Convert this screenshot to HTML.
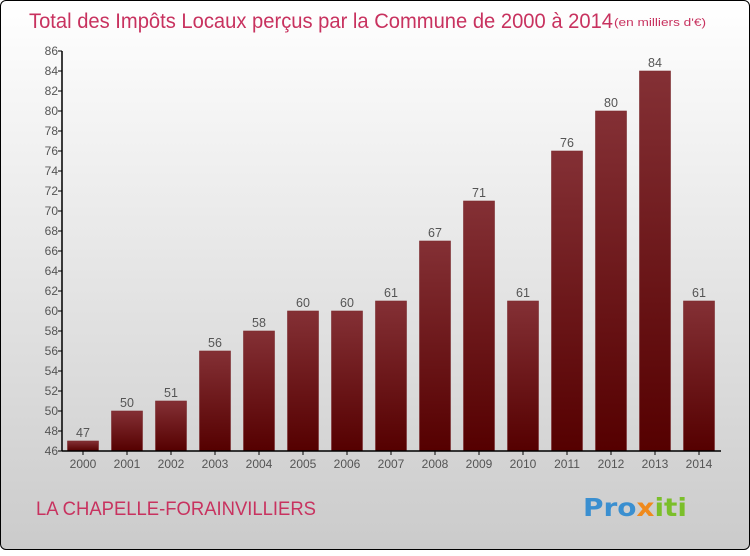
<!DOCTYPE html>
<html><head><meta charset="utf-8"><style>
body{margin:0;width:750px;height:550px;overflow:hidden}
#c{position:absolute;left:0;top:0;width:748px;height:548px;border:1px solid #000;border-radius:6px;background:linear-gradient(#ffffff,#cbcbcb);font-family:"Liberation Sans","DejaVu Sans",sans-serif}
</style></head><body>
<div id="c">
<svg width="750" height="550" id="svg">
<defs><linearGradient id="bg" x1="0" y1="0" x2="0" y2="1"><stop offset="0" stop-color="#843035"/><stop offset="1" stop-color="#550000"/></linearGradient></defs>
<text x="28" y="27" font-size="21" fill="#c8325f" textLength="584" lengthAdjust="spacingAndGlyphs" font-family="Liberation Sans,sans-serif">Total des Impôts Locaux perçus par la Commune de 2000 à 2014</text>
<text x="613" y="25" font-size="11" fill="#c8325f" textLength="92" lengthAdjust="spacingAndGlyphs" font-family="Liberation Sans,sans-serif">(en milliers d'€)</text>
<text x="35" y="514" font-size="19" fill="#c8325f" textLength="280" lengthAdjust="spacingAndGlyphs" font-family="Liberation Sans,sans-serif">LA CHAPELLE-FORAINVILLIERS</text>
<g font-size="25" font-weight="bold" font-family="DejaVu Sans,sans-serif">
<text x="582" y="515" textLength="104" lengthAdjust="spacingAndGlyphs"><tspan fill="#3a8fd0">Pro</tspan><tspan fill="#f08a1c">x</tspan><tspan fill="#7bbf2a">iti</tspan></text></g>
<g id="plot"></g>
</svg></div>
<script>
const categories=["2000","2001","2002","2003","2004","2005","2006","2007","2008","2009","2010","2011","2012","2013","2014"];
const values=[47,50,51,56,58,60,60,61,67,71,61,76,80,84,61];
const yTicks=[46,48,50,52,54,56,58,60,62,64,66,68,70,72,74,76,78,80,82,84,86];
const NS="http://www.w3.org/2000/svg";
const g=document.getElementById('plot');
const y=v=>450-(v-46)*10;
const x=i=>82+i*44;
function el(t,a,p){const e=document.createElementNS(NS,t);for(const k in a)e.setAttribute(k,a[k]);(p||g).appendChild(e);return e;}
categories.forEach((c,i)=>{
 const r=el('rect',{x:x(i)-15.5,y:y(values[i]),width:31,height:450-y(values[i]),fill:'url(#bg)',stroke:'#7a2a2e','stroke-width':0.6});
 
 
 const t=el('text',{x:x(i),y:y(values[i])-4,'text-anchor':'middle','font-size':12.5,fill:'#555'});t.textContent=values[i];
 
 
 const l=el('text',{x:x(i),y:467,'text-anchor':'middle','font-size':12,fill:'#555'});l.textContent=c;
 
 
 el('line',{x1:x(i),x2:x(i),y1:450,y2:454,stroke:'#000'});
});
yTicks.forEach(v=>{
 el('line',{x1:57,x2:61,y1:y(v),y2:y(v),stroke:'#000'});
 const t=el('text',{x:57,y:y(v)+4,'text-anchor':'end','font-size':12,fill:'#555'});t.textContent=v;
 
 
});
const ax=el('line',{x1:61,x2:61,y1:50,y2:450,stroke:'#000','stroke-width':1.5});


const xa=el('line',{x1:61,x2:720,y1:450,y2:450,stroke:'#000','stroke-width':1.5});


</script>
</body></html>
